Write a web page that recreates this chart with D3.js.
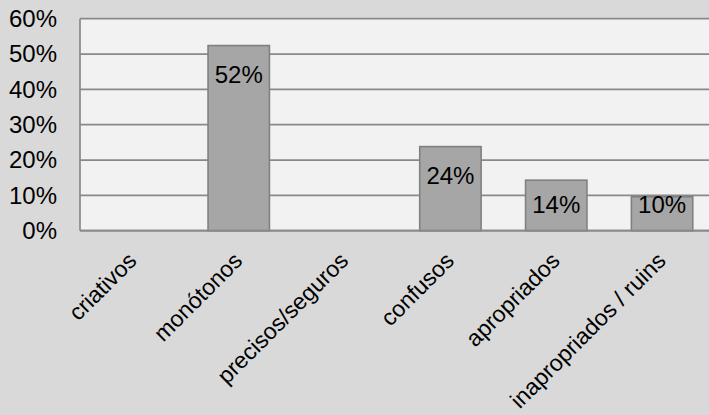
<!DOCTYPE html>
<html>
<head>
<meta charset="utf-8">
<script src="https://cdn.jsdelivr.net/npm/d3@7"></script>
<style>
  html, body { margin: 0; padding: 0; background: #d9d9d9; }
  svg { display: block; font-family: "Liberation Sans", Arial, sans-serif; }
</style>
</head>
<body>
<svg id="chart" width="709" height="415"></svg>
<script>
// Survey answers: share of respondents per category
const categories = ["criativos", "monótonos", "precisos/seguros", "confusos", "apropriados", "inapropriados / ruins"];
const values = [0, 0.524, 0, 0.238, 0.143, 0.096];
const yTicks = [0, 0.1, 0.2, 0.3, 0.4, 0.5, 0.6];

const W = 709, H = 415;
const plot = { left: 80, right: 715, top: 18.7, bottom: 230.7 };

const svg = d3.select("#chart");

svg.append("rect").attr("width", W).attr("height", H).attr("fill", "#d9d9d9");

const x = d3.scaleBand()
  .domain(categories)
  .range([plot.left, plot.right])
  .paddingInner(0.42)
  .paddingOuter(0.21);

const y = d3.scaleLinear()
  .domain([0, 0.6])
  .range([plot.bottom, plot.top]);

const pct = d3.format(".0%");

// plot area background
svg.append("rect")
  .attr("x", plot.left).attr("y", plot.top)
  .attr("width", plot.right - plot.left).attr("height", plot.bottom - plot.top)
  .attr("fill", "#f2f2f2");

// horizontal gridlines
svg.append("g").selectAll("line")
  .data(yTicks)
  .join("line")
  .attr("x1", plot.left).attr("x2", plot.right)
  .attr("y1", d => y(d)).attr("y2", d => y(d))
  .attr("stroke", "#898989").attr("stroke-width", 1.7);

// left frame line
svg.append("line")
  .attr("x1", plot.left).attr("x2", plot.left)
  .attr("y1", plot.top).attr("y2", plot.bottom)
  .attr("stroke", "#898989").attr("stroke-width", 1.7);

// y axis labels
const yAxis = svg.append("g")
  .attr("transform", `translate(${plot.left},0)`)
  .call(d3.axisLeft(y).tickValues(yTicks).tickFormat(pct).tickSize(0).tickPadding(23));
yAxis.select(".domain").remove();
yAxis.selectAll("text")
  .attr("font-size", 24).attr("fill", "#000")
  .attr("font-family", "'Liberation Sans', Arial, sans-serif");

// bars
svg.append("g").selectAll("rect")
  .data(categories.map((c, i) => ({ c, v: values[i] })).filter(d => d.v > 0))
  .join("rect")
  .attr("x", d => x(d.c))
  .attr("y", d => y(d.v))
  .attr("width", x.bandwidth())
  .attr("height", d => y(0) - y(d.v))
  .attr("fill", "#a6a6a6")
  .attr("stroke", "#808080").attr("stroke-width", 1.6);

// value labels, inside the top of each bar
svg.append("g").selectAll("text")
  .data(categories.map((c, i) => ({ c, v: values[i] })).filter(d => d.v > 0))
  .join("text")
  .attr("x", d => x(d.c) + x.bandwidth() / 2)
  .attr("y", d => Math.min(y(d.v) + 37, y(0) - 17.5))
  .attr("text-anchor", "middle")
  .attr("font-size", 24)
  .attr("fill", "#000")
  .text(d => pct(d.v));

// category axis with rotated labels
const xAxis = svg.append("g")
  .attr("transform", `translate(0,${plot.bottom})`)
  .call(d3.axisBottom(x).tickSize(0));
xAxis.select(".domain").remove();
xAxis.selectAll("text")
  .attr("y", null).attr("dy", null)
  .attr("text-anchor", "end")
  .attr("transform", "translate(5,31.5) rotate(-45)")
  .attr("font-size", 23).attr("fill", "#000")
  .attr("font-family", "'Liberation Sans', Arial, sans-serif");

// bottom frame line
svg.append("line")
  .attr("x1", plot.left).attr("x2", plot.right)
  .attr("y1", plot.bottom).attr("y2", plot.bottom)
  .attr("stroke", "#898989").attr("stroke-width", 1.7);
</script>
</body>
</html>
